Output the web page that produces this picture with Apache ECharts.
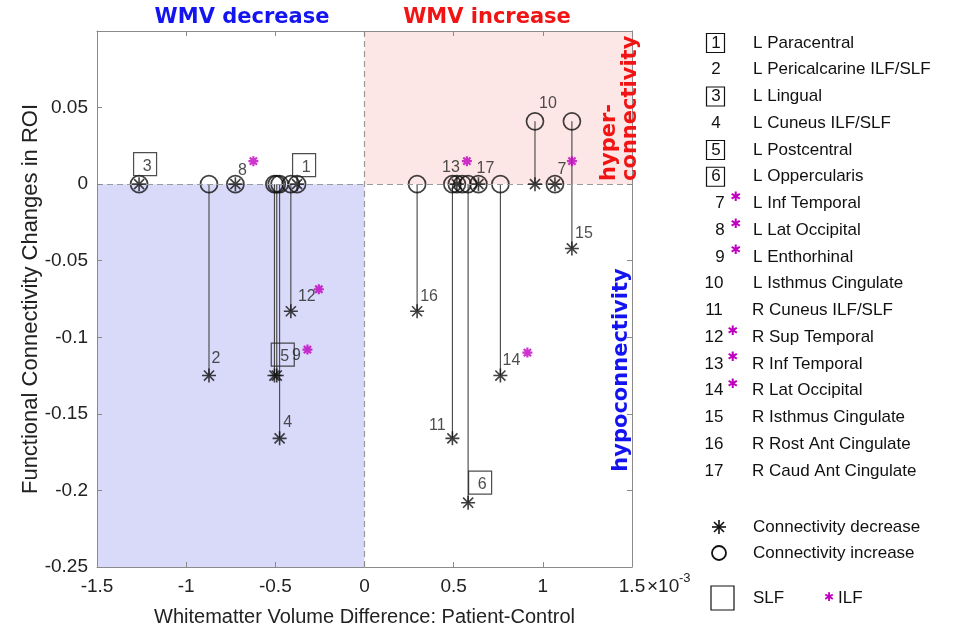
<!DOCTYPE html>
<html><head><meta charset="utf-8">
<script src="https://cdn.jsdelivr.net/npm/echarts@6/dist/echarts.min.js"></script>
<style>html,body{margin:0;padding:0;background:#fff}#c{width:974px;height:629px}</style>
</head><body><div id="c"></div>
<script>
// ---------------- data ----------------
const roiIds    = [1,2,3,4,5,6,7,8,9,10,11,12,13,14,15,16,17];
const roiNames  = ['L Paracentral','L Pericalcarine ILF/SLF','L Lingual','L Cuneus ILF/SLF','L Postcentral',
                   'L Oppercularis','L Inf Temporal','L Lat Occipital','L Enthorhinal','L Isthmus Cingulate',
                   'R Cuneus ILF/SLF','R Sup Temporal','R Inf Temporal','R Lat Occipital','R Isthmus Cingulate',
                   'R Rost Ant Cingulate','R Caud Ant Cingulate'];
// whitematter volume difference (x 1e-3)
const roiX      = [-0.378,-0.872,-1.264,-0.476,-0.492,0.581,1.068,-0.724,-0.505,0.956,0.493,-0.413,0.518,0.762,1.163,0.295,0.639];
// connectivity increase (circle) and decrease (asterisk) values
const increaseY = [0,0,0,0,0,0,0,0,0,0.041,0,0,0,0,0.041,0,0];
const decreaseY = [0,-0.125,0,-0.166,-0.125,-0.208,0,0,-0.125,0,-0.166,-0.083,0,-0.125,-0.042,-0.083,0];
const extraIncreaseX = [0.549];
const extraIncreaseY = [0];
const slfIds = [1,3,5,6];
const ilfIds = [7,8,9,12,13,14];
const xTicks = [-1.5,-1,-0.5,0,0.5,1,1.5];
const yTicks = [-0.25,-0.2,-0.15,-0.1,-0.05,0,0.05];

// ---------------- layout / style ----------------
const FONT = 'Liberation Sans';
const BOLD = 'bold 21px DejaVu Sans';
const labelLayout = {
  1:{box:[7,-19]}, 2:{t:[7,-17]}, 3:{box:[6,-20]}, 4:{t:[8,-16]}, 5:{box:[6,-21]},
  6:{box:[12,-20]}, 7:{t:[7,-15],m:[17,-23]}, 8:{t:[7,-14],m:[18,-23]}, 9:{t:[22,-20],m:[33,-26]},
  10:{t:[13,-18],at:'inc'}, 11:{t:[-15,-13]}, 12:{t:[16,-15],m:[28,-22]}, 13:{t:[-6,-17],m:[10,-23]},
  14:{t:[11,-15],m:[27,-23]}, 15:{t:[12,-15]}, 16:{t:[12,-15]}, 17:{t:[7,-16]}
};
const STAR = 'path://M0,-1L0,1M-1,0L1,0M-0.72,-0.72L0.72,0.72M-0.72,0.72L0.72,-0.72';

const circles = roiX.map((x,i)=>[x, increaseY[i]]).concat(extraIncreaseX.map((x,i)=>[x, extraIncreaseY[i]]));
const stars = roiX.map((x,i)=>[x, decreaseY[i]]);
const stems = roiX.map((x,i)=>[x, increaseY[i], decreaseY[i]]).filter(d=>d[1]!==d[2]);

function anchor(id){
  const i = roiIds.indexOf(id);
  const L = labelLayout[id];
  return [roiX[i], L.at==='inc' ? increaseY[i] : decreaseY[i]];
}
const textLabels = roiIds.filter(id=>labelLayout[id].t).map(id=>({
  value: anchor(id), symbolOffset: labelLayout[id].t,
  label:{formatter: String(id)}
}));
const boxes = slfIds.map(id=>({value: anchor(id), symbolOffset: labelLayout[id].box, label:{formatter:String(id)}}));
const ilfMarks = ilfIds.map(id=>({value: anchor(id), symbolOffset: labelLayout[id].m}));

// legend
const legendG = [];
const T = (x,y,text,font,fill,align,extra)=>Object.assign({type:'text', x:x, y:y,
  style:{text:text, font:font, fill:fill, align:align||'left', verticalAlign:'middle'}}, extra||{});
const rowY0 = 43, rowStep = 26.75;
roiIds.forEach((id,k)=>{
  const y = rowY0 + k*rowStep;
  const isSlf = slfIds.includes(id), isIlf = ilfIds.includes(id);
  const nx = id>=10 ? 714 : (isIlf ? 720 : 716);
  legendG.push(T(nx, y, String(id), '17px '+FONT, '#111', 'center'));
  if (isSlf) legendG.push({type:'rect', shape:{x:706.5, y:y-9.5, width:18, height:19}, style:{fill:'none', stroke:'#111', lineWidth:1.2}});
  if (isIlf) legendG.push(T(id>=10?733:736, y-6, '✱', 'bold 13px DejaVu Sans', '#c000c0', 'center'));
  legendG.push(T(roiNames[k][0]==='R'?752:753, y, roiNames[k], '17px '+FONT, '#111'));
});
const sx=719, sy=527;
[[0,-7,0,7],[-7,0,7,0],[-5,-5,5,5],[-5,5,5,-5]].forEach(s=>legendG.push(
  {type:'line', shape:{x1:sx+s[0], y1:sy+s[1], x2:sx+s[2], y2:sy+s[3]}, style:{stroke:'#111', lineWidth:1.6}}));
legendG.push(
  T(753, 527, 'Connectivity decrease', '17px '+FONT, '#111'),
  {type:'circle', shape:{cx:719, cy:553, r:7}, style:{stroke:'#111', lineWidth:1.8, fill:'none'}},
  T(753, 553, 'Connectivity increase', '17px '+FONT, '#111'),
  {type:'rect', shape:{x:711, y:586, width:23, height:24}, style:{fill:'none', stroke:'#111', lineWidth:1.2}},
  T(753, 598, 'SLF', '17px '+FONT, '#111'),
  T(829, 598, '✱', 'bold 12px DejaVu Sans', '#c000c0', 'center'),
  T(838, 598, 'ILF', '17px '+FONT, '#111')
);
// titles / region annotations
legendG.push(
  T(242, 18, 'WMV decrease', BOLD, '#1414f0', 'center'),
  T(487, 18, 'WMV increase', BOLD, '#f01414', 'center'),
  {type:'text', x:620, y:181, rotation:Math.PI/2, style:{text:'hyper-\nconnectivity', font:BOLD, fill:'#f01414', align:'left', verticalAlign:'middle', lineHeight:21}},
  {type:'text', x:622, y:370, rotation:Math.PI/2, style:{text:'hypoconnectivity', font:BOLD, fill:'#1414f0', align:'center', verticalAlign:'middle'}},
  T(647, 587, '×10', '19px '+FONT, '#222'),
  T(679, 578, '-3', '13px '+FONT, '#222')
);
legendG.forEach(g=>{ g.z = 100; });

const axisCol = '#8a8a8a';
const fmt = v => { const r = Math.round(v*1000)/1000; return r.toString(); };
const baseAxis = {
  axisLine:{show:true, onZero:false, lineStyle:{color:axisCol, width:1}},
  axisTick:{show:true, inside:true, length:5, lineStyle:{color:axisCol}},
  splitLine:{show:false}, z:10
};
const chart = echarts.init(document.getElementById('c'), null, {renderer:'canvas'});
chart.setOption({
  animation:false,
  backgroundColor:'#fff',
  grid:{left:97, right:342, top:31, bottom:62, containLabel:false, outerBoundsMode:'none'},
  xAxis:[
    Object.assign({type:'value', min:xTicks[0], max:xTicks[xTicks.length-1], interval:0.5, position:'bottom',
      axisLabel:{fontFamily:FONT, fontSize:19, color:'#222', margin:10, formatter:fmt},
      name:'Whitematter Volume Difference: Patient-Control', nameLocation:'middle', nameGap:40, nameMoveOverlap:false,
      nameTextStyle:{fontFamily:FONT, fontSize:20, color:'#222'}}, baseAxis),
    Object.assign({type:'value', min:xTicks[0], max:xTicks[xTicks.length-1], interval:0.5, position:'top',
      axisLabel:{show:false}}, baseAxis)
  ],
  yAxis:[
    Object.assign({type:'value', min:yTicks[0], max:0.1, interval:0.05, position:'left',
      axisLabel:{fontFamily:FONT, fontSize:19, color:'#222', margin:9,
        formatter:v=> (Math.abs(v-0.1)<1e-9 ? '' : fmt(v))},
      name:'Functional Connectivity Changes in ROI', nameLocation:'middle', nameGap:55, nameMoveOverlap:false,
      nameTextStyle:{fontFamily:FONT, fontSize:22, color:'#222'}}, baseAxis),
    Object.assign({type:'value', min:yTicks[0], max:0.1, interval:0.05, position:'right',
      axisLabel:{show:false}}, baseAxis)
  ],
  graphic: legendG,
  series:[
    { type:'scatter', data:[], silent:true, z:0,
      markArea:{silent:true, data:[
        [{xAxis:-1.5, yAxis:-0.25, itemStyle:{color:'#d9d9fa'}},{xAxis:0, yAxis:0}],
        [{xAxis:0, yAxis:0, itemStyle:{color:'#fde6e6'}},{xAxis:1.5, yAxis:0.1}]
      ]},
      markLine:{silent:true, symbol:'none', label:{show:false},
        lineStyle:{color:'#9a9a9a', type:[6,4], width:1.2},
        data:[{xAxis:0},{yAxis:0}]}
    },
    { type:'custom', data:stems, z:3, silent:true, encode:{x:0, y:[1,2]},
      renderItem:(params, api)=>{
        const p1 = api.coord([api.value(0), api.value(1)]);
        const p2 = api.coord([api.value(0), api.value(2)]);
        return {type:'line', shape:{x1:p1[0], y1:p1[1], x2:p2[0], y2:p2[1]}, style:{stroke:'#444', lineWidth:1.1}};
      }
    },
    { type:'scatter', data:circles, symbol:'circle', symbolSize:17, z:4,
      itemStyle:{color:'rgba(0,0,0,0)', borderColor:'#111', borderWidth:1.7} },
    { type:'scatter', data:stars, symbol:STAR, symbolSize:14, z:5,
      itemStyle:{color:'none', borderColor:'#111', borderWidth:1.6} },
    { type:'scatter', data:boxes, symbol:'rect', symbolSize:[23,23], z:5,
      itemStyle:{color:'rgba(0,0,0,0)', borderColor:'#222', borderWidth:1.2},
      label:{show:true, position:'inside', offset:[2,2], fontFamily:FONT, fontSize:16, color:'#222'} },
    { type:'scatter', data:ilfMarks, symbol:STAR, symbolSize:10, z:5,
      itemStyle:{color:'none', borderColor:'#c000c0', borderWidth:2.2} },
    { type:'scatter', data:textLabels, symbol:'circle', symbolSize:1, z:6,
      itemStyle:{color:'rgba(0,0,0,0)'},
      label:{show:true, position:'inside', fontFamily:FONT, fontSize:16, color:'#222'} }
  ]
});
</script></body></html>
